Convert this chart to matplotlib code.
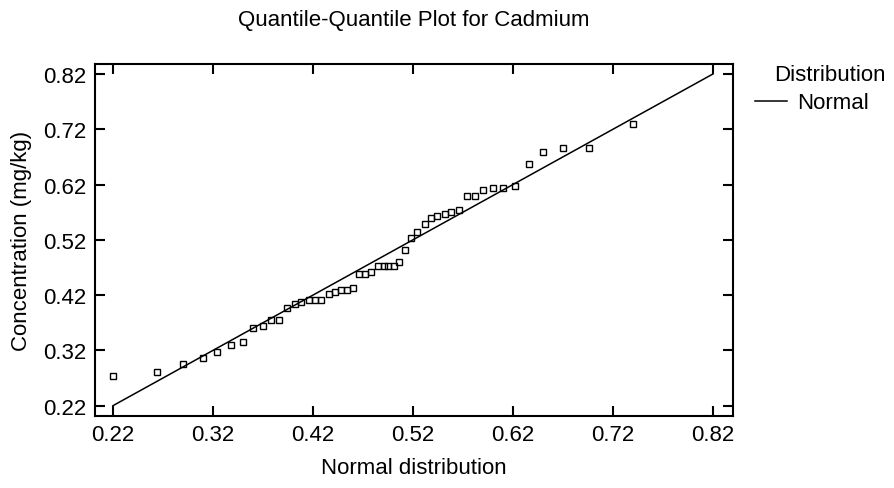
import numpy as np
import matplotlib
matplotlib.use("Agg")
import matplotlib.pyplot as plt

plt.rcParams['font.family'] = ['Liberation Sans', 'DejaVu Sans']

# Theoretical (normal) quantiles and observed cadmium concentrations
normal_q = [0.220, 0.264, 0.290, 0.310, 0.324, 0.338, 0.350, 0.360, 0.370, 0.378,
            0.386, 0.394, 0.402, 0.408, 0.416, 0.422, 0.428, 0.436, 0.442, 0.448,
            0.454, 0.460, 0.466, 0.472, 0.478, 0.485, 0.491, 0.495, 0.501, 0.506,
            0.512, 0.518, 0.524, 0.532, 0.538, 0.544, 0.552, 0.558, 0.566, 0.574,
            0.582, 0.590, 0.600, 0.610, 0.622, 0.636, 0.650, 0.670, 0.696, 0.740]
cadmium = [0.274, 0.281, 0.296, 0.307, 0.318, 0.329, 0.336, 0.360, 0.365, 0.375,
           0.375, 0.397, 0.404, 0.407, 0.412, 0.412, 0.411, 0.422, 0.425, 0.429,
           0.429, 0.433, 0.459, 0.458, 0.462, 0.473, 0.473, 0.473, 0.473, 0.480,
           0.502, 0.523, 0.534, 0.549, 0.559, 0.563, 0.567, 0.570, 0.574, 0.600,
           0.600, 0.611, 0.614, 0.614, 0.618, 0.657, 0.679, 0.686, 0.686, 0.730]

# Reference line end points
ref_x = [0.22, 0.82]
ref_y = [0.22, 0.82]

ticks = [0.22, 0.32, 0.42, 0.52, 0.62, 0.72, 0.82]

FS = 16

fig = plt.figure(figsize=(8.95, 4.89), dpi=100)
ax = fig.add_axes([0.1061, 0.148, 0.7128, 0.719])

line, = ax.plot(ref_x, ref_y, color='black', lw=1.1)
ax.plot(normal_q, cadmium, linestyle='none', marker='s', ms=4.2, mfc='none',
        mec='black', mew=1.0)

ax.set_xlim(0.202, 0.84)
ax.set_ylim(0.202, 0.838)
ax.set_xticks(ticks)
ax.set_yticks(ticks)
ax.set_xticklabels(['%.2f' % t for t in ticks])
ax.set_yticklabels(['%.2f' % t for t in ticks])
ax.tick_params(axis='both', which='major', direction='in', length=7, width=1.5,
               top=True, right=True, labelsize=FS, pad=6)
for s in ax.spines.values():
    s.set_linewidth(1.5)

ax.set_xlabel('Normal distribution', fontsize=FS, labelpad=9)
ax.set_ylabel('Concentration (mg/kg)', fontsize=FS, labelpad=8)
fig.suptitle('Quantile-Quantile Plot for Cadmium', x=0.4626, y=0.979, fontsize=FS)

# legend: one entry, title placed as separate text
leg = ax.legend([line], ['Normal'], loc='upper left',
                bbox_to_anchor=(0.993, 0.995), frameon=False, fontsize=FS,
                handlelength=1.45, handletextpad=0.45, borderaxespad=0.8)
fig.text(0.927, 0.846, 'Distribution', fontsize=FS, ha='center', va='center')

plt.savefig('out.png', dpi=100)
